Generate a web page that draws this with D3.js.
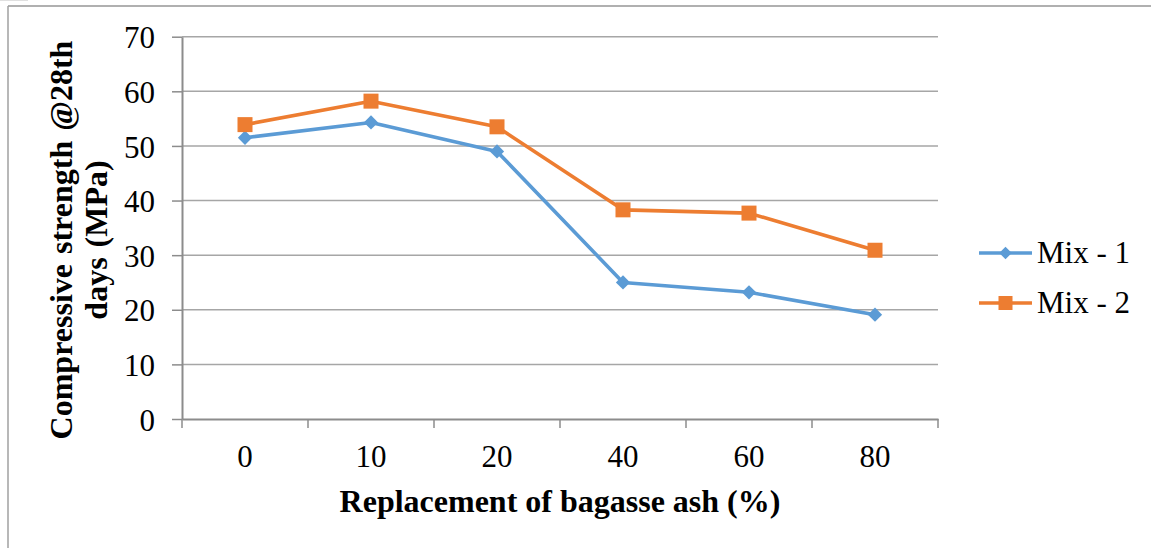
<!DOCTYPE html>
<html><head><meta charset="utf-8">
<script src="https://cdn.jsdelivr.net/npm/d3@7"></script>
<style>
html,body{margin:0;padding:0;background:#fff;}
svg text{font-family:"Liberation Serif","Times New Roman",serif;fill:#000;}
</style>
</head><body>
<svg id="chart" width="1151" height="548"></svg>
<script>
const categories = ["0","10","20","40","60","80"];
const mix1 = [51.5, 54.3, 49.0, 25.0, 23.2, 19.1];
const mix2 = [53.9, 58.2, 53.5, 38.3, 37.7, 30.9];
const seriesNames = ["Mix - 1", "Mix - 2"];
const seriesColors = ["#5B9BD5", "#ED7D31"];
const yTicks = [0,10,20,30,40,50,60,70];

(function(){
const svg = d3.select("#chart");
const pL = 182, pR = 938, pT = 36.7, pB = 419;

// frame
svg.append("line").attr("x1",8).attr("x2",1151).attr("y1",6).attr("y2",6).attr("stroke","#b0b0b0").attr("stroke-width",2);
svg.append("line").attr("x1",8).attr("x2",8).attr("y1",6).attr("y2",548).attr("stroke","#a0a0a0").attr("stroke-width",1.5);
svg.append("line").attr("x1",0).attr("x2",28).attr("y1",0.5).attr("y2",0.5).attr("stroke","#e0e0e0").attr("stroke-width",1);

const x = d3.scaleBand().domain(categories).range([pL,pR]);
const y = d3.scaleLinear().domain([0,70]).range([pB,pT]);

// gridlines
svg.append("g").selectAll("line").data(yTicks.filter(d=>d>0)).join("line")
  .attr("x1",pL).attr("x2",pR).attr("y1",d=>y(d)).attr("y2",d=>y(d))
  .attr("stroke","#a6a6a6").attr("stroke-width",1.5);

// y axis
const yAxis = svg.append("g").attr("transform",`translate(${pL},0)`)
  .call(d3.axisLeft(y).tickValues(yTicks).tickSize(10).tickPadding(17).tickSizeOuter(0));
yAxis.select(".domain").attr("stroke","#8c8c8c").attr("stroke-width",2);
yAxis.selectAll(".tick line").attr("stroke","#8c8c8c").attr("stroke-width",1.5);
yAxis.selectAll(".tick text").attr("font-size",31).attr("font-family","Liberation Serif").attr("dy","0.36em").attr("fill","#000");

// x axis
const xAxis = svg.append("g").attr("transform",`translate(0,${pB})`)
  .call(d3.axisBottom(x).tickSize(0).tickPadding(48).tickSizeOuter(0));
xAxis.select(".domain").attr("stroke","#8c8c8c").attr("stroke-width",2);
xAxis.selectAll(".tick text").attr("font-size",31).attr("font-family","Liberation Serif").attr("dy","0").attr("fill","#000");
const bounds = categories.map(c=>x(c)).concat([pR]);
xAxis.selectAll(".bt").data(bounds).join("line").attr("class","bt")
  .attr("x1",d=>d).attr("x2",d=>d).attr("y1",0).attr("y2",9)
  .attr("stroke","#8c8c8c").attr("stroke-width",1.5);

// series
const cx = c => x(c) + x.bandwidth()/2;
const line = d3.line().x((d,i)=>cx(categories[i])).y(d=>y(d));
[mix1, mix2].forEach((data,si)=>{
  svg.append("path").datum(data).attr("d",line).attr("fill","none")
    .attr("stroke",seriesColors[si]).attr("stroke-width",3.6).attr("stroke-linejoin","round");
});
const diamond = d3.symbol().type(d3.symbolDiamond2).size(130);
svg.append("g").selectAll("path").data(mix1).join("path")
  .attr("d",diamond).attr("transform",(d,i)=>`translate(${cx(categories[i])},${y(d)})`)
  .attr("fill",seriesColors[0]);
svg.append("g").selectAll("rect").data(mix2).join("rect")
  .attr("x",(d,i)=>cx(categories[i])-7.5).attr("y",d=>y(d)-7.5).attr("width",15).attr("height",15)
  .attr("fill",seriesColors[1]);

// legend
const lg = svg.append("g");
seriesNames.forEach((n,i)=>{
  const ly = 253 + i*50;
  lg.append("line").attr("x1",979).attr("x2",1032).attr("y1",ly).attr("y2",ly)
    .attr("stroke",seriesColors[i]).attr("stroke-width",3.6);
  if(i===0){
    lg.append("path").attr("d",d3.symbol().type(d3.symbolDiamond2).size(100)()).attr("transform",`translate(1005.5,${ly})`).attr("fill",seriesColors[i]);
  } else {
    lg.append("rect").attr("x",998.5).attr("y",ly-7).attr("width",14).attr("height",14).attr("fill",seriesColors[i]);
  }
  lg.append("text").attr("x",1037).attr("y",ly+10).attr("font-size",31).text(n);
});

// titles
svg.append("text").attr("x",(pL+pR)/2).attr("y",512).attr("text-anchor","middle")
  .attr("font-size",32).attr("font-weight","bold").text("Replacement of bagasse ash (%)");
const yt = svg.append("text").attr("transform","translate(72,240) rotate(-90)")
  .attr("text-anchor","middle").attr("font-size",32).attr("font-weight","bold").attr("word-spacing",2);
yt.append("tspan").attr("x",0).attr("y",0).text("Compressive strength @28th");
yt.append("tspan").attr("x",0).attr("y",35).text("days (MPa)");
})();
</script>
</body></html>
